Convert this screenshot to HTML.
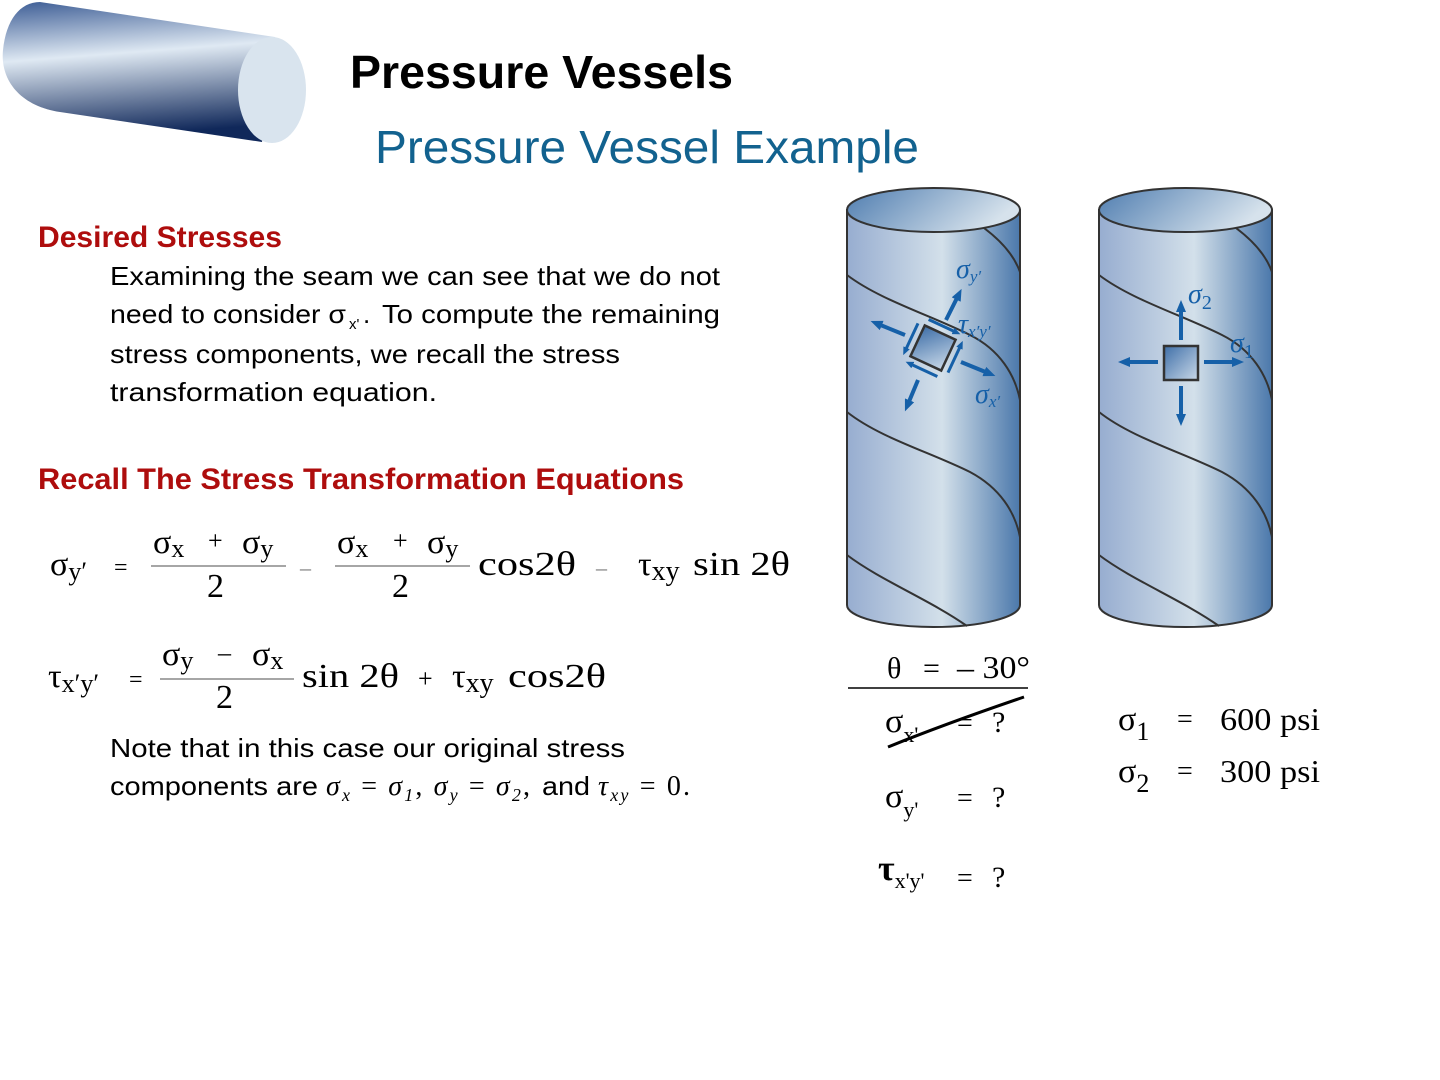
<!DOCTYPE html>
<html><head><meta charset="utf-8"><style>
html,body{margin:0;padding:0;background:#fff;}
svg{display:block;}
text{white-space:pre;}
.cal{font-family:"Liberation Sans",sans-serif;}
.ser{font-family:"Liberation Serif",serif;}
</style></head><body>
<svg width="1440" height="1080" viewBox="0 0 1440 1080" xmlns="http://www.w3.org/2000/svg">
<defs>
<linearGradient id="tube" x1="0" y1="0" x2="0.15" y2="1">
<stop offset="0" stop-color="#3d5d95"/>
<stop offset="0.42" stop-color="#dfe9f3"/>
<stop offset="1" stop-color="#10285a"/>
</linearGradient>
<linearGradient id="cyl" x1="0" y1="0" x2="1" y2="0">
<stop offset="0" stop-color="#97add0"/>
<stop offset="0.55" stop-color="#d3e0ea"/>
<stop offset="1" stop-color="#4b78ab"/>
</linearGradient>
<linearGradient id="cap" x1="0" y1="0" x2="1" y2="0.3">
<stop offset="0" stop-color="#4f7db0"/>
<stop offset="1" stop-color="#d6e2ec"/>
</linearGradient>
<linearGradient id="sq" x1="0" y1="0" x2="1" y2="1">
<stop offset="0" stop-color="#3f6fa8"/>
<stop offset="1" stop-color="#c8d8e8"/>
</linearGradient>
<marker id="ah" markerWidth="12" markerHeight="10" refX="4" refY="5" orient="auto" markerUnits="userSpaceOnUse">
<path d="M0,0 L12,5 L0,10 z" fill="#1660a8"/>
</marker>
<marker id="ahs" markerWidth="8" markerHeight="7" refX="3" refY="3.5" orient="auto" markerUnits="userSpaceOnUse">
<path d="M0,0 L8,3.5 L0,7 z" fill="#1660a8"/>
</marker>
</defs>

<!-- top-left tube -->
<path d="M40,2 L275,37 L262,142 L60,112 C20,106 0,80 3,50 C6,20 20,2 40,2 Z" fill="url(#tube)"/>
<ellipse cx="272" cy="90" rx="34" ry="53" fill="#d9e4ee"/>

<!-- titles -->
<text x="350" y="88" class="cal" font-size="46" font-weight="bold" fill="#000" textLength="383" lengthAdjust="spacingAndGlyphs">Pressure Vessels</text>
<text x="375" y="163" class="cal" font-size="46" fill="#12628f" textLength="544" lengthAdjust="spacingAndGlyphs">Pressure Vessel Example</text>

<text x="38" y="247" class="cal" font-size="30" font-weight="bold" fill="#ae0d0d" textLength="244" lengthAdjust="spacingAndGlyphs">Desired Stresses</text>
<g class="cal" font-size="26" fill="#000">
<text x="110" y="285" textLength="610" lengthAdjust="spacingAndGlyphs">Examining the seam we can see that we do not</text>
<text x="110" y="323" textLength="236" lengthAdjust="spacingAndGlyphs">need to consider σ</text>
<text x="349" y="329" font-size="15">x'</text>
<text x="363" y="323">.</text>
<text x="382" y="323" textLength="338" lengthAdjust="spacingAndGlyphs">To compute the remaining</text>
<text x="110" y="363" textLength="510" lengthAdjust="spacingAndGlyphs">stress components, we recall the stress</text>
<text x="110" y="401" textLength="327" lengthAdjust="spacingAndGlyphs">transformation equation.</text>
</g>
<text x="38" y="489" class="cal" font-size="30" font-weight="bold" fill="#ae0d0d" textLength="646" lengthAdjust="spacingAndGlyphs">Recall The Stress Transformation Equations</text>

<!-- equation 1 -->
<g class="ser" font-size="34" fill="#000">
<text x="50" y="575">σ<tspan font-size="26" dy="5">y′</tspan></text>
<text x="114" y="575" font-size="24">=</text>
<text x="153" y="553">σ<tspan font-size="26" dy="4">x</tspan></text>
<text x="208" y="549" font-size="26">+</text>
<text x="242" y="553">σ<tspan font-size="26" dy="4">y</tspan></text>
<line x1="151" y1="566" x2="286" y2="566" stroke="#888" stroke-width="1.5"/>
<text x="207" y="597">2</text>
<text x="300" y="575" font-size="22" fill="#777">–</text>
<text x="337" y="553">σ<tspan font-size="26" dy="4">x</tspan></text>
<text x="393" y="549" font-size="26">+</text>
<text x="427" y="553">σ<tspan font-size="26" dy="4">y</tspan></text>
<line x1="335" y1="566" x2="470" y2="566" stroke="#888" stroke-width="1.5"/>
<text x="392" y="597">2</text>
<text x="478" y="575" textLength="98" lengthAdjust="spacingAndGlyphs">cos2θ</text>
<text x="596" y="575" font-size="22" fill="#777">–</text>
<text x="638" y="575">τ<tspan font-size="28" dy="5">xy</tspan></text>
<text x="693" y="575" textLength="97" lengthAdjust="spacingAndGlyphs">sin 2θ</text>
</g>

<!-- equation 2 -->
<g class="ser" font-size="34" fill="#000">
<text x="48" y="687">τ<tspan font-size="26" dy="5">x′y′</tspan></text>
<text x="129" y="687" font-size="24">=</text>
<text x="162" y="665">σ<tspan font-size="26" dy="4">y</tspan></text>
<text x="218" y="661" font-size="26">–</text>
<text x="252" y="665">σ<tspan font-size="26" dy="4">x</tspan></text>
<line x1="160" y1="679" x2="294" y2="679" stroke="#888" stroke-width="1.5"/>
<text x="216" y="708">2</text>
<text x="302" y="687" textLength="97" lengthAdjust="spacingAndGlyphs">sin 2θ</text>
<text x="418" y="687" font-size="26">+</text>
<text x="452" y="687">τ<tspan font-size="28" dy="5">xy</tspan></text>
<text x="508" y="687" textLength="98" lengthAdjust="spacingAndGlyphs">cos2θ</text>
</g>

<!-- note -->
<g class="cal" font-size="26" fill="#000">
<text x="110" y="757" textLength="515" lengthAdjust="spacingAndGlyphs">Note that in this case our original stress</text>
<text x="110" y="795" textLength="208" lengthAdjust="spacingAndGlyphs">components are</text>
<text x="542" y="795" textLength="48" lengthAdjust="spacingAndGlyphs">and</text>
</g>
<g class="ser" font-size="28" fill="#000" font-style="italic">
<text x="326" y="795" textLength="204" lengthAdjust="spacing">σ<tspan font-size="18" dy="6">x</tspan><tspan dy="-6" font-style="normal"> = </tspan>σ<tspan font-size="18" dy="6">1</tspan><tspan dy="-6" font-style="normal">, </tspan>σ<tspan font-size="18" dy="6">y</tspan><tspan dy="-6" font-style="normal"> = </tspan>σ<tspan font-size="18" dy="6">2</tspan><tspan dy="-6" font-style="normal">,</tspan></text>
<text x="598" y="795" textLength="92" lengthAdjust="spacing">τ<tspan font-size="18" dy="6">xy</tspan><tspan dy="-6" font-style="normal"> = 0.</tspan></text>
</g>

<!-- left cylinder -->
<g stroke="#333" stroke-width="2">
<path d="M847,210 L847,605 A86.5,22 0 0 0 1020,605 L1020,210 Z" fill="url(#cyl)"/>
<ellipse cx="933.5" cy="210" rx="86.5" ry="22" fill="url(#cap)"/>
<g fill="none">
<path d="M984,228 C1000,240 1014,255 1020,272"/>
<path d="M847,275 C880,300 930,315 970,335 C1000,350 1015,375 1020,400"/>
<path d="M847,412 C880,438 930,452 970,472 C1000,488 1015,512 1020,537"/>
<path d="M847,555 C880,580 930,600 967,626"/>
</g>
</g>
<g transform="translate(933,348) rotate(25)">
<rect x="-17" y="-17" width="34" height="34" fill="url(#sq)" stroke="#333" stroke-width="2.5"/>
<g stroke="#1660a8" stroke-width="3" fill="none">
<line x1="-16" y1="-24" x2="14" y2="-24" marker-end="url(#ahs)"/>
<line x1="16" y1="24" x2="-14" y2="24" marker-end="url(#ahs)"/>
<line x1="24" y1="16" x2="24" y2="-14" marker-end="url(#ahs)"/>
<line x1="-24" y1="-16" x2="-24" y2="14" marker-end="url(#ahs)"/>
</g>
</g>
<g stroke="#1660a8" stroke-width="4" fill="none">
<line x1="946" y1="320" x2="958" y2="296" marker-end="url(#ah)"/>
<line x1="905" y1="335" x2="878" y2="324" marker-end="url(#ah)"/>
<line x1="918" y1="380" x2="908" y2="404" marker-end="url(#ah)"/>
<line x1="961" y1="362" x2="988" y2="373" marker-end="url(#ah)"/>
</g>
<g class="ser" font-style="italic" fill="#1660a8">
<text x="956" y="278" font-size="28">σ<tspan font-size="17" dy="4">y′</tspan></text>
<text x="958" y="333" font-size="28">τ<tspan font-size="17" dy="4">x′y′</tspan></text>
<text x="975" y="403" font-size="28">σ<tspan font-size="17" dy="4">x′</tspan></text>
</g>

<!-- right cylinder -->
<g stroke="#333" stroke-width="2">
<path d="M1099,210 L1099,605 A86.5,22 0 0 0 1272,605 L1272,210 Z" fill="url(#cyl)"/>
<ellipse cx="1185.5" cy="210" rx="86.5" ry="22" fill="url(#cap)"/>
<g fill="none">
<path d="M1236,228 C1252,240 1266,255 1272,272"/>
<path d="M1099,275 C1132,300 1182,315 1222,335 C1252,350 1267,375 1272,400"/>
<path d="M1099,412 C1132,438 1182,452 1222,472 C1252,488 1267,512 1272,537"/>
<path d="M1099,555 C1132,580 1182,600 1219,626"/>
</g>
</g>
<rect x="1164" y="346" width="34" height="34" fill="url(#sq)" stroke="#333" stroke-width="2.5"/>
<g stroke="#1660a8" stroke-width="4" fill="none">
<line x1="1181" y1="340" x2="1181" y2="308" marker-end="url(#ah)"/>
<line x1="1158" y1="362" x2="1126" y2="362" marker-end="url(#ah)"/>
<line x1="1204" y1="362" x2="1236" y2="362" marker-end="url(#ah)"/>
<line x1="1181" y1="386" x2="1181" y2="418" marker-end="url(#ah)"/>
</g>
<g class="ser" font-style="italic" fill="#1660a8">
<text x="1188" y="303" font-size="28">σ<tspan font-size="20" dy="6" font-style="normal">2</tspan></text>
<text x="1230" y="352" font-size="28">σ<tspan font-size="20" dy="6" font-style="normal">1</tspan></text>
</g>

<!-- givens -->
<g class="ser" fill="#000">
<text x="887" y="678" font-size="30">θ</text>
<text x="923" y="678" font-size="30">=</text>
<text x="957" y="678" font-size="32" textLength="73" lengthAdjust="spacingAndGlyphs">– 30°</text>
<line x1="848" y1="688" x2="1028" y2="688" stroke="#000" stroke-width="1.5"/>
<text x="885" y="732" font-size="34">σ<tspan font-size="22" dy="10">x'</tspan></text>
<text x="957" y="732" font-size="28">=</text>
<text x="992" y="732" font-size="30">?</text>
<path d="M888,747 C930,730 980,712 1024,697" stroke="#000" stroke-width="3" fill="none"/>
<text x="885" y="807" font-size="34">σ<tspan font-size="22" dy="10">y'</tspan></text>
<text x="957" y="807" font-size="28">=</text>
<text x="992" y="807" font-size="30">?</text>
<text x="878" y="880" font-size="36" font-weight="bold">τ<tspan font-size="22" dy="8" font-weight="normal">x'y'</tspan></text>
<text x="957" y="887" font-size="28">=</text>
<text x="992" y="887" font-size="30">?</text>
<text x="1118" y="730" font-size="34">σ<tspan font-size="26" dy="10">1</tspan></text>
<text x="1177" y="728" font-size="28">=</text>
<text x="1220" y="730" font-size="32" textLength="100" lengthAdjust="spacingAndGlyphs">600 psi</text>
<text x="1118" y="782" font-size="34">σ<tspan font-size="26" dy="10">2</tspan></text>
<text x="1177" y="780" font-size="28">=</text>
<text x="1220" y="782" font-size="32" textLength="100" lengthAdjust="spacingAndGlyphs">300 psi</text>
</g>
</svg>
</body></html>
